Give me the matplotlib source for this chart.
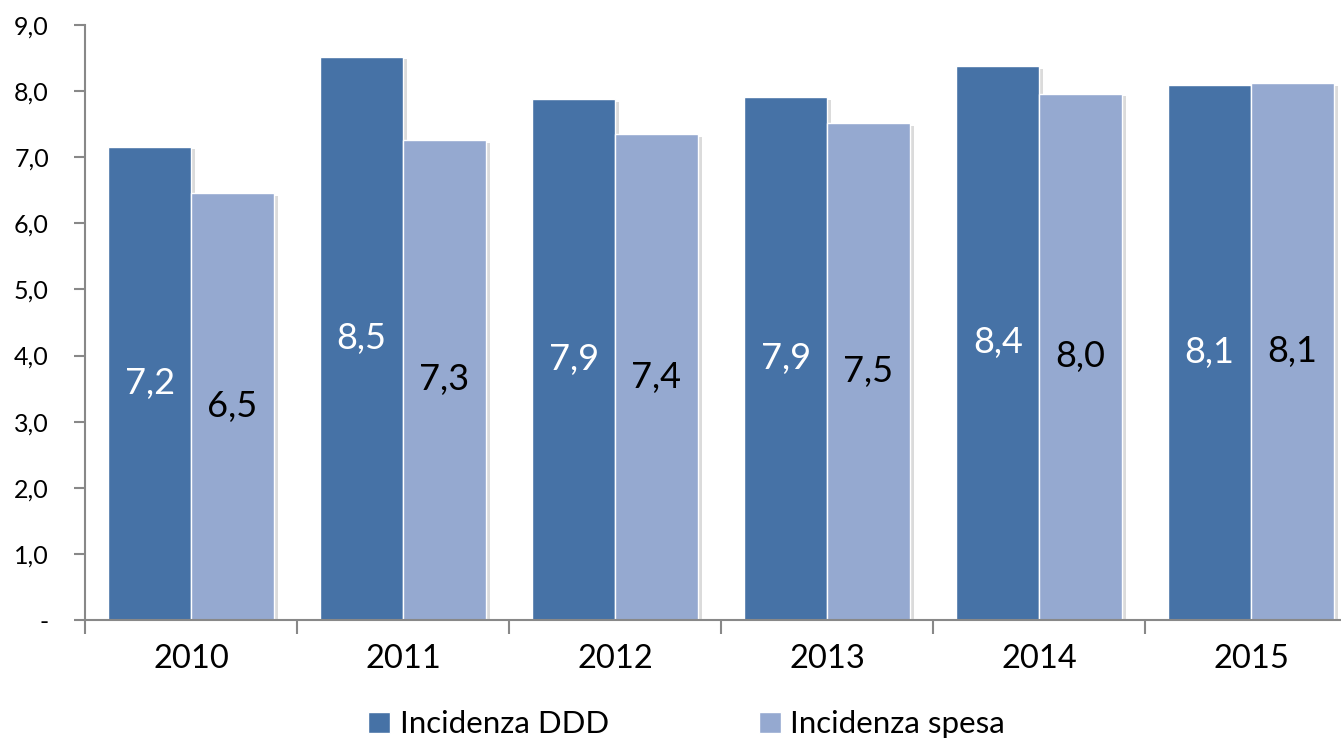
import matplotlib.pyplot as plt
import matplotlib.patheffects as pe
from matplotlib.patches import Patch
import numpy as np

plt.rcParams['font.family'] = ['Lato', 'DejaVu Sans']

years = ['2010', '2011', '2012', '2013', '2014', '2015']
ddd = [7.16, 8.52, 7.88, 7.91, 8.38, 8.09]
spesa = [6.46, 7.26, 7.35, 7.52, 7.96, 8.12]
ddd_labels = ['7,2', '8,5', '7,9', '7,9', '8,4', '8,1']
spesa_labels = ['6,5', '7,3', '7,4', '7,5', '8,0', '8,1']
yticks = [0, 1, 2, 3, 4, 5, 6, 7, 8, 9]
ytick_labels = ['-', '1,0', '2,0', '3,0', '4,0', '5,0', '6,0', '7,0', '8,0', '9,0']

c_ddd = '#4672A6'
c_spesa = '#95A9D0'

fig = plt.figure(figsize=(13.41, 7.43), dpi=100)
ax = fig.add_axes([0.0634, 0.1655, 0.9486, 0.801])

x = np.arange(len(years))
w = 0.39
shadow = [pe.SimplePatchShadow(offset=(3, -2), shadow_rgbFace='#999999', alpha=0.35), pe.Normal()]
b1 = ax.bar(x - w / 2, ddd, w, color=c_ddd, edgecolor='white', linewidth=1, path_effects=shadow)
b2 = ax.bar(x + w / 2, spesa, w, color=c_spesa, edgecolor='white', linewidth=1, path_effects=shadow)

for i in range(len(years)):
    ax.text(x[i] - w / 2, ddd[i] / 2, ddd_labels[i], ha='center', va='center',
            color='white', fontsize=26)
    ax.text(x[i] + w / 2, spesa[i] / 2, spesa_labels[i], ha='center', va='center',
            color='black', fontsize=26)

ax.set_xlim(-0.5, len(years) - 0.5)
ax.set_ylim(0, 9)
ax.set_yticks(yticks)
ax.set_yticklabels(ytick_labels, fontsize=18)
ax.set_xticks(x)
ax.set_xticklabels(years, fontsize=23.5)
ax.set_xticks(np.arange(len(years) + 1) - 0.5, minor=True)
ax.tick_params(axis='x', which='major', length=0, pad=17)
ax.tick_params(axis='x', which='minor', length=10, color='#888888', width=1.5)
ax.tick_params(axis='y', length=8, color='#888888', width=1.5, pad=18)

for s in ['top', 'right']:
    ax.spines[s].set_visible(False)
for s in ['left', 'bottom']:
    ax.spines[s].set_color('#888888')
    ax.spines[s].set_linewidth(1.5)

handles = [Patch(facecolor=c_ddd, edgecolor='white', label='Incidenza DDD'),
           Patch(facecolor=c_spesa, edgecolor='white', label='Incidenza spesa')]
fig.legend(handles=handles, loc='center', bbox_to_anchor=(0.512, 0.025), ncol=2,
           frameon=False, fontsize=22.5, handlelength=0.7, handleheight=0.7,
           handletextpad=0.3, columnspacing=4.8)

fig.savefig('out.png', dpi=100)
